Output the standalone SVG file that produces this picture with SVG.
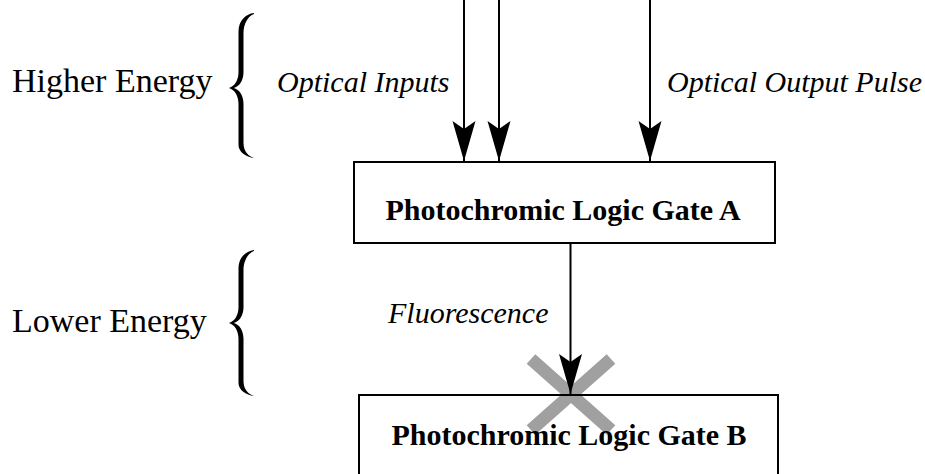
<svg xmlns="http://www.w3.org/2000/svg" width="925" height="474" viewBox="0 0 925 474">
<style>
.lbl{font-family:"Liberation Serif","Times New Roman",serif;font-size:34px;fill:#000}
.it{font-family:"Liberation Serif","Times New Roman",serif;font-size:30px;font-style:italic;fill:#000}
.bold{font-family:"Liberation Serif","Times New Roman",serif;font-size:30px;font-weight:bold;fill:#000;text-anchor:middle}
.box{fill:none;stroke:#000;stroke-width:2}
.conn{stroke:#000;stroke-width:2;fill:none}
.brace{fill:#000}
</style>
<defs>
<marker id="ah" markerUnits="userSpaceOnUse" markerWidth="42" markerHeight="26" viewBox="-41 -13 42 26" refX="0" refY="0" orient="auto">
<path d="M0,0 L-40,-11.5 L-32,0 L-40,11.5 Z" fill="#000"/>
</marker>
</defs>
<rect width="925" height="474" fill="#fff"/>
<g id="energy-labels">
<text class="lbl" x="12" y="92">Higher Energy</text>
<text class="lbl" x="12" y="332">Lower Energy</text>
</g>
<g id="braces">
<path class="brace" d="M254,13 C246,14 238.5,20 238.5,32 L238.5,72 C238.5,80 235,86 229,88 C235,90 238.5,96 238.5,104 L238.5,145 C238.5,152 246,157 254,158 C248,156 243.5,151 243.5,143 L243.5,104 C243.5,96 240,90 234,88 C240,86 243.5,80 243.5,72 L243.5,33 C243.5,24 248,16 254,14 Z"/>
<path class="brace" d="M254,250 C246,251 238.5,257 238.5,269 L238.5,307 C238.5,315 235,321 229,323 C235,325 238.5,331 238.5,339 L238.5,383 C238.5,390 246,395 254,396 C248,394 243.5,389 243.5,381 L243.5,339 C243.5,331 240,325 234,323 C240,321 243.5,315 243.5,307 L243.5,270 C243.5,261 248,253 254,251 Z"/>
</g>
<g id="edge-labels">
<text class="it" x="277" y="92">Optical Inputs</text>
<text class="it" x="667" y="92">Optical Output Pulse</text>
<text class="it" x="388" y="323">Fluorescence</text>
</g>
<g id="blocked-mark">
<path d="M531,359 L611,430 M611,359 L531,430" stroke="#a0a0a0" stroke-width="13" fill="none"/>
</g>
<g id="gateA">
<rect class="box" x="354" y="162" width="421" height="81"/>
<text class="bold" x="563" y="220">Photochromic Logic Gate A</text>
</g>
<g id="gateB">
<rect class="box" x="359" y="395" width="419" height="90"/>
<text class="bold" x="569" y="445">Photochromic Logic Gate B</text>
</g>
<g id="connectors">
<path class="conn" d="M464,0 L464,161" marker-end="url(#ah)"/>
<path class="conn" d="M499,0 L499,161" marker-end="url(#ah)"/>
<path class="conn" d="M650,0 L650,161" marker-end="url(#ah)"/>
<path class="conn" d="M570.5,243 L570.5,394" marker-end="url(#ah)"/>
</g>
</svg>
